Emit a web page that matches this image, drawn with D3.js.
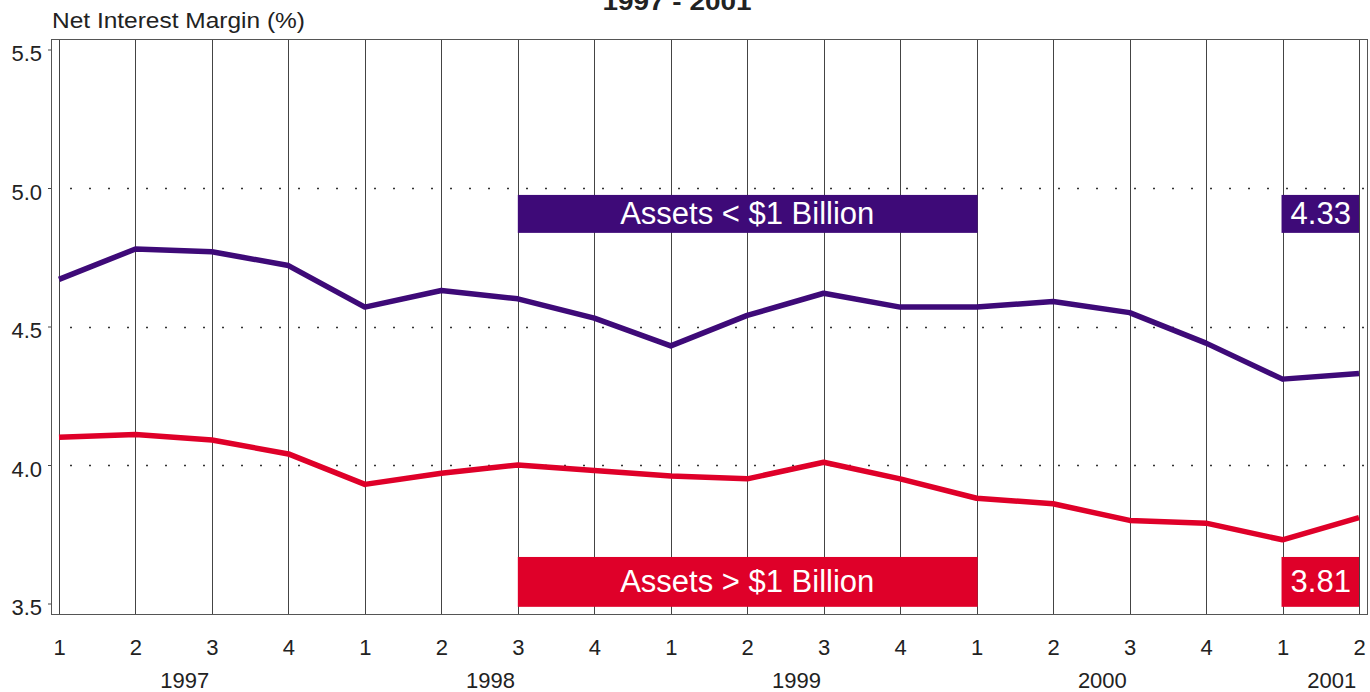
<!DOCTYPE html>
<html>
<head>
<meta charset="utf-8">
<script src="https://cdn.jsdelivr.net/npm/d3@7"></script>
<style>
  body { margin: 0; background: #fff; }
  text { font-family: "Liberation Sans", Arial, sans-serif; fill: #222; }
</style>
</head>
<body>
<div id="graph"></div>
<script>
// quarterly net interest margin, 1997 Q1 - 2001 Q2
const quarterLabels = ['1','2','3','4','1','2','3','4','1','2','3','4','1','2','3','4','1','2'];
const yearLabels = ['1997','1998','1999','2000','2001'];
const quartersPerYear = [4, 4, 4, 4, 2];
const smallBanks = [4.67,4.78,4.77,4.72,4.57,4.63,4.60,4.53,4.43,4.54,4.62,4.57,4.57,4.59,4.55,4.44,4.31,4.33];
const largeBanks = [4.10,4.11,4.09,4.04,3.93,3.97,4.00,3.98,3.96,3.95,4.01,3.95,3.88,3.86,3.80,3.79,3.73,3.81];
const seriesNames = ['Assets < $1 Billion', 'Assets > $1 Billion'];
const yTicks = [3.5, 4.0, 4.5, 5.0, 5.5];
const dottedLevels = [4.0, 4.5, 5.0];

const W = 1370, H = 692;
const frame = {left: 51, right: 1367, top: 39, bottom: 614};
const purple = '#3e0a78', red = '#df0029';
const fontFam = '"Liberation Sans", Arial, sans-serif';

let svg = d3.select('div#graph').append('svg')
  .attr('width', W)
  .attr('height', H);

let x = d3.scaleLinear().domain([0, quarterLabels.length - 1]).range([59, 1359]);
let y = d3.scaleLinear().domain([3.5, 5.5]).range([603.5, 49.5]);

// title (cut off at the top, as in the original)
svg.append('text')
  .attr('x', 677).attr('y', 10)
  .attr('text-anchor', 'middle')
  .attr('font-size', 24).attr('font-weight', 'bold')
  .attr('textLength', 149).attr('lengthAdjust', 'spacingAndGlyphs')
  .text('1997 - 2001');

svg.append('text')
  .attr('x', 52).attr('y', 28)
  .attr('font-size', 22)
  .attr('textLength', 253).attr('lengthAdjust', 'spacingAndGlyphs')
  .text('Net Interest Margin (%)');

// dotted horizontal levels
svg.append('g').selectAll('line')
  .data(dottedLevels)
  .enter()
  .append('line')
  .attr('x1', 70).attr('x2', frame.right)
  .attr('y1', d => Math.round(y(d)) + 0.5)
  .attr('y2', d => Math.round(y(d)) + 0.5)
  .attr('stroke', '#333')
  .attr('stroke-width', 1.5)
  .attr('stroke-dasharray', '2,17');

// vertical grid lines + quarter labels
let xAxis = d3.axisBottom(x)
  .tickValues(d3.range(quarterLabels.length))
  .tickSize(-(frame.bottom - frame.top))
  .tickPadding(25)
  .tickFormat(i => quarterLabels[i]);
let xg = svg.append('g')
  .attr('transform', 'translate(0,' + frame.bottom + ')')
  .call(xAxis);
xg.select('.domain').remove();
xg.selectAll('line').attr('stroke', '#444').attr('shape-rendering', 'crispEdges');
xg.selectAll('text').attr('font-size', 22).attr('fill', '#222').attr('font-family', fontFam);

// year labels
let start = 0;
let yearPos = quartersPerYear.map(n => {
  let mid = (x(start) + x(start + n - 1)) / 2;
  start += n;
  return mid + 11;
});
svg.append('g').selectAll('text')
  .data(yearLabels)
  .enter()
  .append('text')
  .attr('x', (d, i) => yearPos[i])
  .attr('y', 688)
  .attr('text-anchor', 'middle')
  .attr('font-size', 22)
  .text(d => d);

// y axis
let yAxis = d3.axisLeft(y).tickValues(yTicks).tickSize(3).tickPadding(6).tickFormat(d3.format('.1f'));
let yg = svg.append('g')
  .attr('transform', 'translate(' + frame.left + ',0)')
  .call(yAxis);
yg.select('.domain').remove();
yg.selectAll('line').attr('stroke', '#444');
yg.selectAll('text').attr('font-size', 22).attr('dy', '0.5em').attr('fill', '#222').attr('font-family', fontFam);

// frame
svg.append('rect')
  .attr('x', frame.left + 0.5).attr('y', frame.top + 0.5)
  .attr('width', frame.right - frame.left).attr('height', frame.bottom - frame.top)
  .attr('fill', 'none').attr('stroke', '#555');

// lines
let line = d3.line().x((d, i) => x(i)).y(d => y(d));
[[largeBanks, red], [smallBanks, purple]].forEach(function(s){
  svg.append('path')
    .attr('d', line(s[0]))
    .attr('fill', 'none')
    .attr('stroke', s[1])
    .attr('stroke-width', 5.5)
    .attr('stroke-linejoin', 'round');
});

// series name boxes and last-value boxes
let boxes = [
  {name: seriesNames[0], values: smallBanks, color: purple, top: 4.975, bottom: 4.838},
  {name: seriesNames[1], values: largeBanks, color: red, top: 3.668, bottom: 3.488}
];
boxes.forEach(function(b){
  let y0 = y(b.top), y1 = y(b.bottom), cy = (y0 + y1) / 2;
  svg.append('rect')
    .attr('x', x(6)).attr('y', y0)
    .attr('width', x(12) - x(6) + 1).attr('height', y1 - y0)
    .attr('fill', b.color);
  svg.append('text')
    .attr('x', (x(6) + x(12)) / 2).attr('y', cy + 10)
    .attr('text-anchor', 'middle')
    .attr('font-size', 31)
    .style('fill', '#fff')
    .text(b.name);
  let last = b.values.length - 1;
  svg.append('rect')
    .attr('x', x(last - 1) - 1).attr('y', y0)
    .attr('width', x(last) - x(last - 1) + 1).attr('height', y1 - y0)
    .attr('fill', b.color);
  svg.append('text')
    .attr('x', (x(last - 1) + x(last)) / 2).attr('y', cy + 10)
    .attr('text-anchor', 'middle')
    .attr('font-size', 31)
    .style('fill', '#fff')
    .text(d3.format('.2f')(b.values[last]));
});
</script>
</body>
</html>
